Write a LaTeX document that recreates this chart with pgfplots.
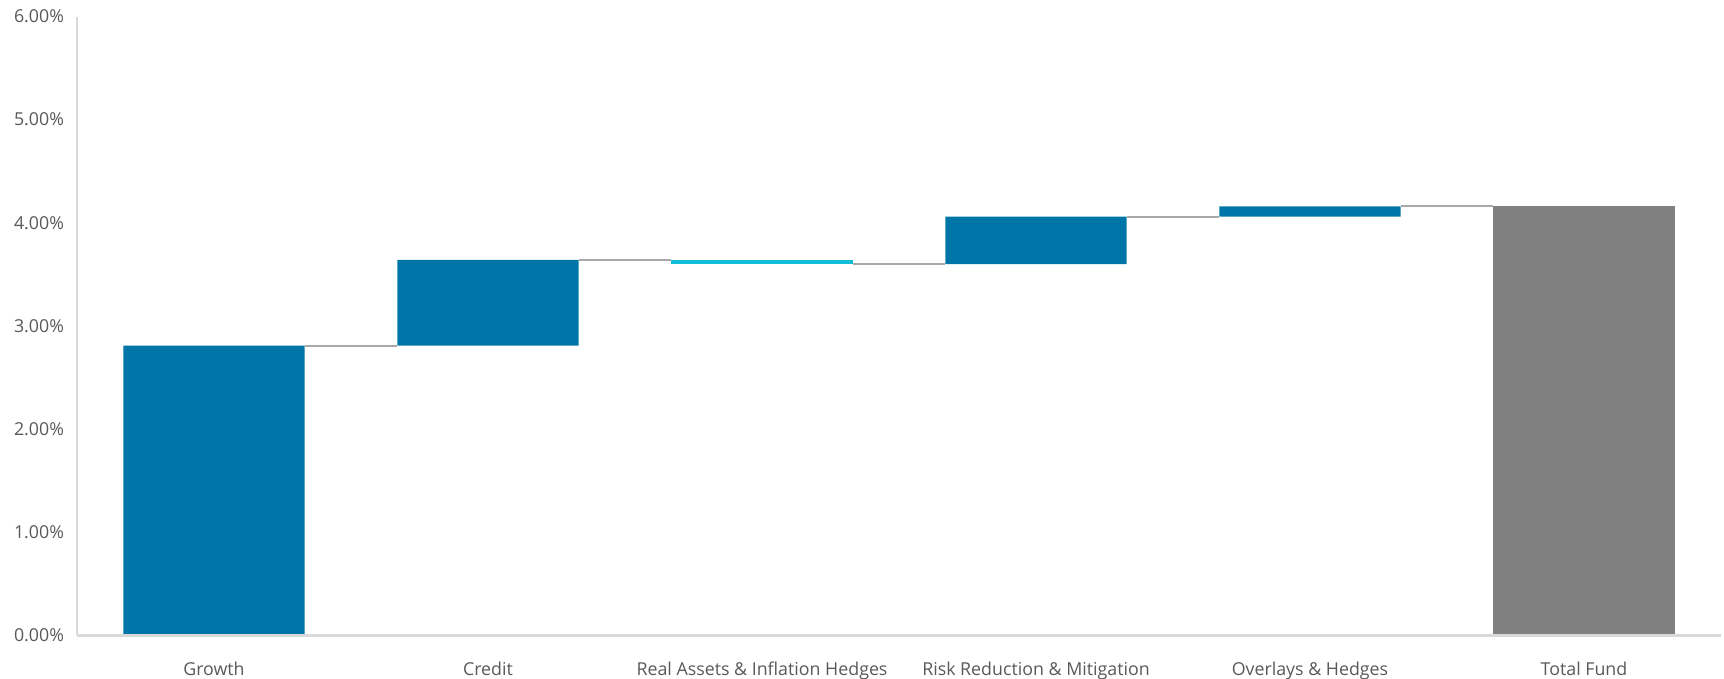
\documentclass[border=0pt]{standalone}
\usepackage{pgfplots}
\pgfplotsset{compat=1.18}
\usepackage{pgfplotstable}
\usepackage{fontspec}
\setmainfont{Open Sans}
\definecolor{wfblue}{HTML}{0076A8}
\definecolor{wfcyan}{HTML}{12BDD8}
\definecolor{wfgray}{HTML}{808080}
\definecolor{conn}{HTML}{A8A8A8}
\definecolor{axisgray}{HTML}{D9D9D9}
\definecolor{txt}{HTML}{595959}

\pgfplotstableread{
x base blue cyan gray
0 0    2.81 0    0
1 2.81 0.83 0    0
2 3.60 0    0.04 0
3 3.60 0.46 0    0
4 4.06 0.10 0    0
5 0    0    0    4.16
}\wfdata

\pgfplotstableread{
x y
0.331 2.81
0.669 2.81
nan nan
1.331 3.64
1.669 3.64
nan nan
2.331 3.60
2.669 3.60
nan nan
3.331 4.06
3.669 4.06
nan nan
4.331 4.16
4.669 4.16
}\conndata

\begin{document}
\begin{tikzpicture}
\pgfplotsset{
  common/.style={
    scale only axis,
    width=822pt, height=309.5pt,
    xmin=-0.5, xmax=5.5,
    ymin=0, ymax=6,
  }
}
\begin{axis}[
  common,
  name=ax,
  ybar stacked,
  bar width=0.662,
  axis lines*=left,
  axis line style={draw=none},
  xtick=data,
  xticklabels={Growth, Credit, Real Assets \& Inflation Hedges, Risk Reduction \& Mitigation, Overlays \& Hedges, Total Fund},
  ytick={0,1,2,3,4,5,6},
  yticklabel={\pgfmathprintnumber[fixed,fixed zerofill,precision=2]{\tick}\%},
  /pgf/number format/assume math mode=true,
  major tick length=0pt,
  tick label style={font=\fontsize{8.9}{10.5}\selectfont, text=txt},
  xticklabel style={yshift=-9.5pt},
  yticklabel style={xshift=-3pt},
]
\addplot[draw=none, fill=none] table[x=x, y=base] {\wfdata};
\addplot[draw=none, fill=wfblue] table[x=x, y=blue] {\wfdata};
\addplot[draw=none, fill=wfcyan] table[x=x, y=cyan] {\wfdata};
\addplot[draw=none, fill=wfgray] table[x=x, y=gray] {\wfdata};
\end{axis}
\begin{axis}[
  common,
  at={(ax.south west)}, anchor=south west,
  hide axis,
  unbounded coords=jump,
]
\addplot[conn, line width=1pt, no marks] table[x=x, y=y] {\conndata};
\end{axis}
\draw[axisgray, line width=1pt] (ax.south west) -- (ax.north west);
\draw[axisgray, line width=1.5pt] (ax.south west) -- (ax.south east);
\pgfresetboundingbox
\useasboundingbox ([xshift=-38.5pt,yshift=-21.75pt]ax.south west) rectangle ([xshift=1.5pt,yshift=8.25pt]ax.north east);
\end{tikzpicture}
\end{document}
